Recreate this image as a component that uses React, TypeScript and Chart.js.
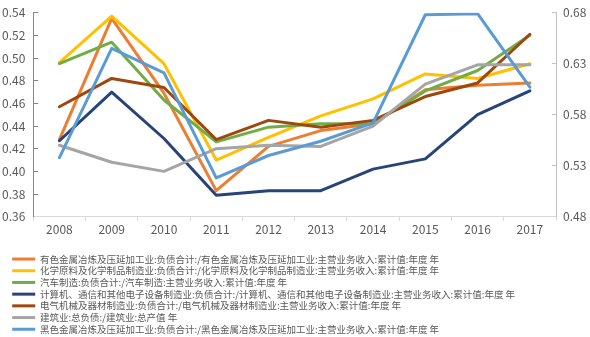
import React, { useEffect, useRef } from "react";
import { Chart, registerables } from "chart.js";

Chart.register(...registerables);

const years = ["2008", "2009", "2010", "2011", "2012", "2013", "2014", "2015", "2016", "2017"];

const nonferrous = [0.428, 0.535, 0.469, 0.383, 0.422, 0.436, 0.442, 0.472, 0.476, 0.478];
const chemical = [0.496, 0.537, 0.495, 0.410, 0.430, 0.449, 0.464, 0.486, 0.482, 0.495];
const automobile = [0.495, 0.514, 0.463, 0.426, 0.439, 0.442, 0.442, 0.471, 0.489, 0.520];
const computer = [0.427, 0.470, 0.429, 0.379, 0.383, 0.383, 0.402, 0.411, 0.450, 0.471];
const electrical = [0.457, 0.482, 0.474, 0.428, 0.445, 0.439, 0.445, 0.466, 0.478, 0.521];
const construction = [0.423, 0.408, 0.400, 0.420, 0.423, 0.422, 0.440, 0.477, 0.494, 0.494];
const ferrous = [0.538, 0.645, 0.621, 0.518, 0.540, 0.554, 0.572, 0.678, 0.679, 0.607];

const seriesNames = [
  "有色金属冶炼及压延加工业:负债合计:/有色金属冶炼及压延加工业:主营业务收入:累计值:年度 年",
  "化学原料及化学制品制造业:负债合计:/化学原料及化学制品制造业:主营业务收入:累计值:年度 年",
  "汽车制造:负债合计:/汽车制造:主营业务收入:累计值:年度 年",
  "计算机、通信和其他电子设备制造业:负债合计:/计算机、通信和其他电子设备制造业:主营业务收入:累计值:年度 年",
  "电气机械及器材制造业:负债合计:/电气机械及器材制造业:主营业务收入:累计值:年度 年",
  "建筑业:总负债:/建筑业:总产值 年",
  "黑色金属冶炼及压延加工业:负债合计:/黑色金属冶炼及压延加工业:主营业务收入:累计值:年度 年",
];

const colors = ["#ED7D31", "#FFC000", "#70AD47", "#264478", "#9E480E", "#A5A5A5", "#5B9BD5"];

const FONT = "'Noto Sans CJK SC', 'Noto Sans', sans-serif";

const legendShift = {
  id: "legendShift",
  afterLayout(chart: any) {
    if (chart.legend) {
      chart.legend.left = 10;
      chart.legend.right = 590;
      chart.legend.width = 580;
    }
  },
};

export default function App() {
  const ref = useRef<HTMLCanvasElement | null>(null);

  useEffect(() => {
    document.body.style.margin = "0";
    const values = [nonferrous, chemical, automobile, computer, electrical, construction, ferrous];
    const datasets = values.map((d, i) => ({
      label: seriesNames[i],
      data: d,
      borderColor: colors[i],
      backgroundColor: colors[i],
      borderWidth: 3,
      pointRadius: 0,
      pointHoverRadius: 0,
      tension: 0,
      fill: false,
      borderJoinStyle: "round" as const,
      borderCapStyle: "round" as const,
      yAxisID: i === 6 ? "y1" : "y",
      order: 7 - i,
    }));

    const chart = new Chart(ref.current!, {
      type: "line",
      data: { labels: years, datasets },
      plugins: [legendShift],
      options: {
        responsive: false,
        animation: false,
        layout: { padding: { left: 0, right: 0, top: 12.7, bottom: -7 } },
        plugins: {
          tooltip: { enabled: false },
          legend: {
            position: "bottom",
            align: "start",
            labels: {
              boxWidth: 23,
              boxHeight: 3,
              padding: 2.2,
              color: "#595959",
              font: { family: FONT, size: 9.5 },
              generateLabels: (c: any) =>
                c.data.datasets.map((ds: any, i: number) => ({
                  // trailing ideographic spaces keep every entry on its own row
                  text: String(ds.label).padEnd(40, "\u3000"),
                  fillStyle: ds.borderColor,
                  strokeStyle: ds.borderColor,
                  lineWidth: 0,
                  hidden: false,
                  datasetIndex: i,
                  fontColor: "#595959",
                })),
            },
          },
        },
        scales: {
          x: {
            offset: true,
            grid: { offset: true, drawOnChartArea: false, tickLength: 4, color: "#D9D9D9" },
            border: { color: "#D9D9D9" },
            ticks: { color: "#595959", font: { family: FONT, size: 12 }, padding: 2, maxRotation: 0 },
            afterFit: (s: any) => {
              s.height = 35.4;
              s.paddingLeft = 0;
              s.paddingRight = 0;
            },
          },
          y: {
            position: "left",
            min: 0.36,
            max: 0.54,
            grid: { drawOnChartArea: false, tickLength: -5, color: "#868686" },
            border: { color: "#868686" },
            ticks: {
              stepSize: 0.02,
              padding: 13,
              color: "#595959",
              font: { family: FONT, size: 12 },
              callback: (v: any) => Number(v).toFixed(2),
            },
            afterFit: (s: any) => {
              s.width = 33.3;
              s.paddingTop = 0;
              s.paddingBottom = 0;
            },
          },
          y1: {
            position: "right",
            min: 0.48,
            max: 0.68,
            grid: { drawOnChartArea: false, tickLength: -4, color: "#BFBFBF" },
            border: { color: "#BFBFBF" },
            ticks: {
              stepSize: 0.05,
              padding: 11,
              color: "#595959",
              font: { family: FONT, size: 12 },
              callback: (v: any) => Number(v).toFixed(2),
            },
            afterFit: (s: any) => {
              s.width = 34;
              s.paddingTop = 0;
              s.paddingBottom = 0;
            },
          },
        },
      },
    });
    return () => chart.destroy();
  }, []);

  return (
    <div style={{ width: 590, height: 337 }}>
      <canvas ref={ref} width={590} height={337} />
    </div>
  );
}
